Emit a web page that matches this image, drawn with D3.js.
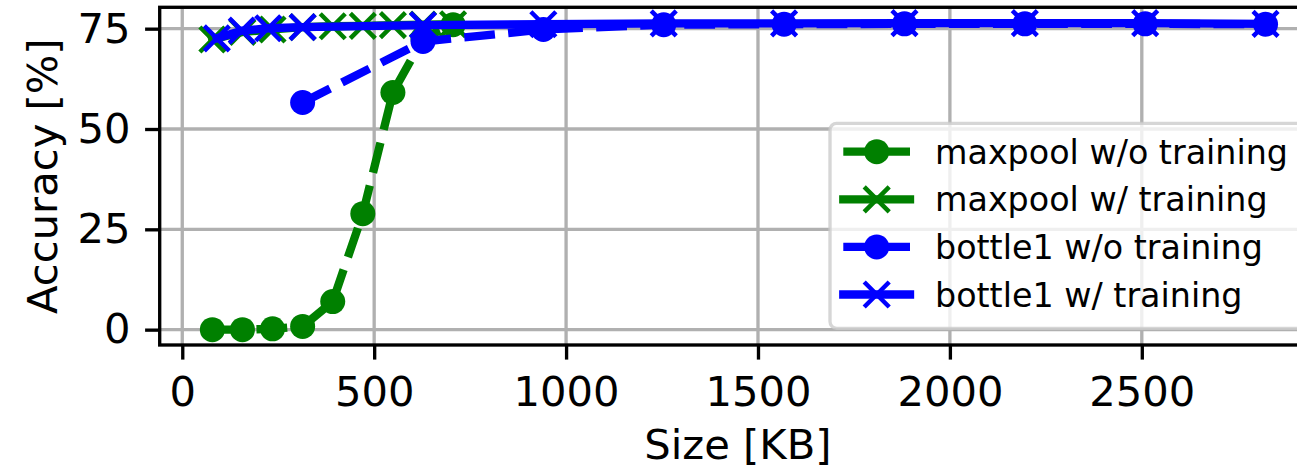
<!DOCTYPE html>
<html>
<head>
<meta charset="utf-8">
<script src="https://cdn.jsdelivr.net/npm/d3@7"></script>
<style>
  html, body { margin: 0; padding: 0; background: #fff; }
  svg { display: block; font-family: "DejaVu Sans", sans-serif; }
</style>
</head>
<body>
<svg id="chart" width="1297" height="469"></svg>
<script>
// Model size (KB) vs. accuracy (%) for the pruned variants
const maxpoolSizes = [78.4, 156.8, 235.2, 313.6, 392.0, 470.4, 548.8, 627.2, 705.6];
const maxpoolNoTrain = [0.0, 0.0, 0.2, 0.8, 7.0, 28.9, 59.1, 72.6, 76.0];
const maxpoolTrain = [72.3, 74.2, 74.8, 75.4, 75.6, 75.7, 75.9, 76.0, 76.1];

const bottleNoTrainSizes = [313.6, 627.2, 940.8, 1254.4, 1568.0, 1881.6, 2195.2, 2508.8, 2822.4];
const bottleNoTrain = [56.6, 71.8, 74.8, 76.0, 76.1, 76.2, 76.2, 76.2, 76.1];
const bottleTrainSizes = [90, 155, 224, 313.6, 627.2, 940.8, 1254.4, 1568.0, 1881.6, 2195.2, 2508.8, 2822.4];
const bottleTrain = [72.6, 74.5, 75.1, 75.4, 75.9, 76.1, 76.3, 76.3, 76.4, 76.4, 76.4, 76.2];

const xTicks = [0, 500, 1000, 1500, 2000, 2500];
const yTicks = [0, 25, 50, 75];

const seriesNames = ["maxpool w/o training", "maxpool w/ training", "bottle1 w/o training", "bottle1 w/ training"];

const series = [
  { name: seriesNames[0], xs: maxpoolSizes, ys: maxpoolNoTrain, color: "green", dashed: true, marker: "o" },
  { name: seriesNames[1], xs: maxpoolSizes, ys: maxpoolTrain, color: "green", dashed: false, marker: "x" },
  { name: seriesNames[2], xs: bottleNoTrainSizes, ys: bottleNoTrain, color: "blue", dashed: true, marker: "o" },
  { name: seriesNames[3], xs: bottleTrainSizes, ys: bottleTrain, color: "blue", dashed: false, marker: "x" }
];

const svg = d3.select("#chart");
const plot = { left: 159.7, right: 1318.2, top: 7.3, bottom: 345 };

const x = d3.scaleLinear().domain([-58.8, 2959.6]).range([plot.left, plot.right]);
const y = d3.scaleLinear().domain([-3.825, 80.325]).range([plot.bottom, plot.top]);

const LW = 8.33, MS = 25, DASH = "30.8,13.3", GRID = "#b0b0b0";

svg.append("defs").append("clipPath").attr("id", "plotclip")
  .append("rect").attr("x", plot.left).attr("y", plot.top)
  .attr("width", plot.right - plot.left).attr("height", plot.bottom - plot.top);

// grid
const grid = svg.append("g");
grid.selectAll(".gx").data(xTicks).enter().append("line")
  .attr("x1", d => x(d)).attr("x2", d => x(d)).attr("y1", plot.top).attr("y2", plot.bottom)
  .attr("stroke", GRID).attr("stroke-width", 3.33);
grid.selectAll(".gy").data(yTicks).enter().append("line")
  .attr("x1", plot.left).attr("x2", plot.right).attr("y1", d => y(d)).attr("y2", d => y(d))
  .attr("stroke", GRID).attr("stroke-width", 3.33);

function xMarkerPath(s) {
  const h = s / 2;
  return `M${-h},${-h}L${h},${h}M${-h},${h}L${h},${-h}`;
}

function drawMarker(g, cx, cy, s) {
  if (s.marker === "o") {
    g.append("circle").attr("cx", cx).attr("cy", cy).attr("r", MS / 2).attr("fill", s.color);
  } else {
    g.append("path").attr("d", xMarkerPath(MS)).attr("transform", `translate(${cx},${cy})`)
      .attr("stroke", s.color).attr("stroke-width", 4.5).attr("fill", "none");
  }
}

// series
const data = svg.append("g").attr("clip-path", "url(#plotclip)");
const line = d3.line().x(d => x(d[0])).y(d => y(d[1]));
series.forEach(s => {
  const pts = s.xs.map((v, i) => [v, s.ys[i]]);
  data.append("path").attr("d", line(pts)).attr("fill", "none")
    .attr("stroke", s.color).attr("stroke-width", LW)
    .attr("stroke-linejoin", "round")
    .attr("stroke-linecap", s.dashed ? "butt" : "square")
    .attr("stroke-dasharray", s.dashed ? DASH : null);
  const mg = data.append("g");
  pts.forEach(p => drawMarker(mg, x(p[0]), y(p[1]), s));
});

// axes
const xAxis = svg.append("g").attr("transform", `translate(0,${plot.bottom})`)
  .call(d3.axisBottom(x).tickValues(xTicks).tickSize(14.6).tickPadding(14.6).tickFormat(d3.format("d")));
const yAxis = svg.append("g").attr("transform", `translate(${plot.left},0)`)
  .call(d3.axisLeft(y).tickValues(yTicks).tickSize(14.6).tickPadding(14.6).tickFormat(d3.format("d")));
[xAxis, yAxis].forEach(a => {
  a.select(".domain").remove();
  a.selectAll(".tick line").attr("stroke", "#000").attr("stroke-width", 3.33);
  a.selectAll(".tick text").attr("fill", "#000").attr("font-size", 41.67)
    .attr("font-family", "DejaVu Sans");
});
xAxis.selectAll(".tick text").attr("dy", "0.76em");

// frame
svg.append("rect").attr("x", plot.left).attr("y", plot.top)
  .attr("width", plot.right - plot.left).attr("height", plot.bottom - plot.top)
  .attr("fill", "none").attr("stroke", "#000").attr("stroke-width", 3.33);

// axis titles
svg.append("text").attr("x", (plot.left + plot.right) / 2 - 1).attr("y", 459)
  .attr("text-anchor", "middle").attr("font-size", 41.67).text("Size [KB]");
svg.append("text").attr("transform", `translate(57,${(plot.top + plot.bottom) / 2}) rotate(-90)`)
  .attr("text-anchor", "middle").attr("font-size", 41.67).text("Accuracy [%]");

// legend
const leg = svg.append("g");
leg.append("rect").attr("x", 830).attr("y", 123.3).attr("width", 476).attr("height", 205)
  .attr("rx", 6.7).attr("fill", "#fff").attr("fill-opacity", 0.8)
  .attr("stroke", "#cccccc").attr("stroke-opacity", 0.8).attr("stroke-width", 3.33);
const rowY = [151.7, 199.3, 246.9, 294.5];
series.forEach((s, i) => {
  const cy = rowY[i];
  const g = leg.append("g");
  g.append("line").attr("x1", 843.3).attr("x2", 910).attr("y1", cy).attr("y2", cy)
    .attr("stroke", s.color).attr("stroke-width", LW)
    .attr("stroke-linecap", s.dashed ? "butt" : "square")
    .attr("stroke-dasharray", s.dashed ? DASH : null);
  drawMarker(g, 876.7, cy, s);
  g.append("text").attr("x", 935).attr("y", cy + 12).attr("font-size", 33.33).text(s.name);
});
</script>
</body>
</html>
